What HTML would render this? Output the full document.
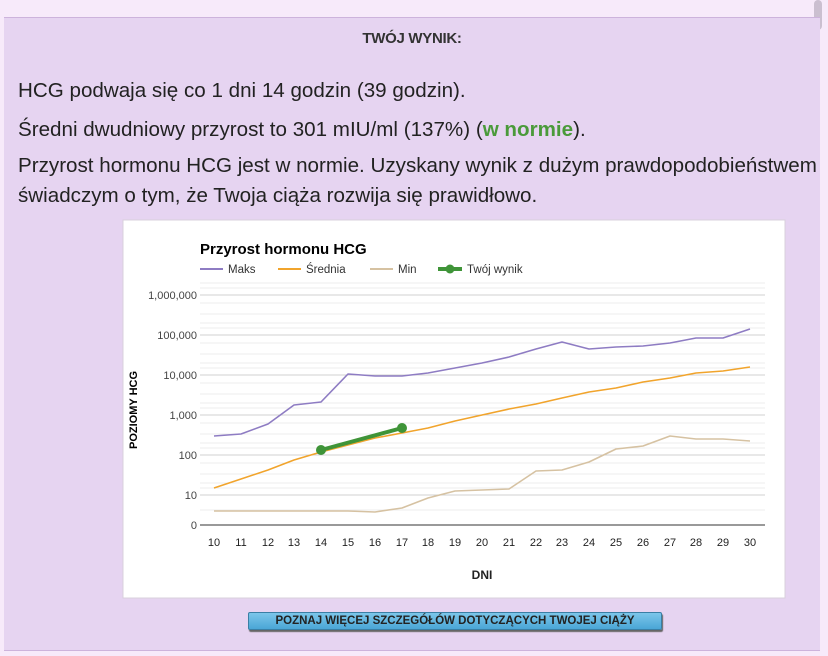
<!DOCTYPE html>
<html><head><meta charset="utf-8"><style>
body{margin:0;width:828px;height:656px;background:#f7eafa;font-family:"Liberation Sans",sans-serif;overflow:hidden;position:relative}
.box{position:absolute;left:4px;top:17px;width:816px;height:632px;background:#e6d4f1;border-top:1px solid #cdb3dc;border-bottom:1px solid #cdb3dc}
.sb{position:absolute;left:814px;top:0;width:8px;height:30px;background:#cbbfd0;border-radius:4px}
h1{position:absolute;top:12px;left:0;width:100%;text-align:center;margin:0;font-size:15px;font-weight:bold;color:#333;letter-spacing:-0.3px}
p{position:absolute;left:14px;margin:0;font-size:20.6px;color:#222;line-height:30px;white-space:nowrap}
.btn{position:absolute;left:248px;top:612px;width:412px;height:16px;background:linear-gradient(#7cc6ea,#4aa6d6);border:1px solid #3a7fa5;border-radius:2px;box-shadow:1px 2px 1px #666;font-size:11.5px;font-weight:bold;color:#222;text-align:center;line-height:16px}
</style></head><body>
<div class="sb"></div>
<div class="box">
<h1>TWÓJ WYNIK:</h1>
<p style="top:58px">HCG podwaja się co 1 dni 14 godzin (39 godzin).</p>
<p style="top:97px">Średni dwudniowy przyrost to 301 mIU/ml (137%) (<b style="color:#4a9a3a">w normie</b>).</p>
<p style="top:133px">Przyrost hormonu HCG jest w normie. Uzyskany wynik z dużym prawdopodobieństwem<br>świadczym o tym, że Twoja ciąża rozwija się prawidłowo.</p>
</div>
<svg style="position:absolute;left:0;top:0" width="828" height="656" font-family="Liberation Sans, sans-serif">
<rect x="123" y="220" width="662" height="378" fill="#fff" stroke="#d8d0dc"/>
<text x="200" y="254" font-size="15" font-weight="bold" fill="#000">Przyrost hormonu HCG</text>
<g font-size="11.5" fill="#333">
<line x1="200" y1="269" x2="223" y2="269" stroke="#8e7cc3" stroke-width="2"/><text x="228" y="273">Maks</text>
<line x1="278" y1="269" x2="301" y2="269" stroke="#f1a42c" stroke-width="2"/><text x="306" y="273">Średnia</text>
<line x1="370" y1="269" x2="393" y2="269" stroke="#d6c2a2" stroke-width="2"/><text x="398" y="273">Min</text>
<line x1="438" y1="269" x2="462" y2="269" stroke="#3f9438" stroke-width="4"/><circle cx="450" cy="269" r="4.5" fill="#3f9438"/><text x="467" y="273">Twój wynik</text>
</g>
<g stroke="#ececec">
<line x1="200" x2="765" y1="283" y2="283"/><line x1="200" x2="765" y1="288" y2="288"/>
<line x1="200" x2="765" y1="323" y2="323"/><line x1="200" x2="765" y1="328" y2="328"/><line x1="200" x2="765" y1="314" y2="314"/><line x1="200" x2="765" y1="303" y2="303"/>
<line x1="200" x2="765" y1="363" y2="363"/><line x1="200" x2="765" y1="354" y2="354"/><line x1="200" x2="765" y1="343" y2="343"/><line x1="200" x2="765" y1="368" y2="368"/>
<line x1="200" x2="765" y1="403" y2="403"/><line x1="200" x2="765" y1="394" y2="394"/><line x1="200" x2="765" y1="383" y2="383"/><line x1="200" x2="765" y1="408" y2="408"/>
<line x1="200" x2="765" y1="443" y2="443"/><line x1="200" x2="765" y1="434" y2="434"/><line x1="200" x2="765" y1="423" y2="423"/><line x1="200" x2="765" y1="448" y2="448"/>
<line x1="200" x2="765" y1="483" y2="483"/><line x1="200" x2="765" y1="474" y2="474"/><line x1="200" x2="765" y1="463" y2="463"/><line x1="200" x2="765" y1="488" y2="488"/>
<line x1="200" x2="765" y1="510" y2="510"/>
</g>
<g stroke="#d0d0d0">
<line x1="200" x2="765" y1="295" y2="295"/><line x1="200" x2="765" y1="335" y2="335"/><line x1="200" x2="765" y1="375" y2="375"/><line x1="200" x2="765" y1="415" y2="415"/><line x1="200" x2="765" y1="455" y2="455"/><line x1="200" x2="765" y1="495" y2="495"/>
</g>
<line x1="200" x2="765" y1="525" y2="525" stroke="#333"/>
<g font-size="11" fill="#444" text-anchor="end">
<text x="197" y="299">1,000,000</text><text x="197" y="339">100,000</text><text x="197" y="379">10,000</text><text x="197" y="419">1,000</text><text x="197" y="459">100</text><text x="197" y="499">10</text><text x="197" y="529">0</text>
</g>
<g font-size="11" fill="#222" text-anchor="middle">
<text x="214" y="546">10</text><text x="241" y="546">11</text><text x="268" y="546">12</text><text x="294" y="546">13</text><text x="321" y="546">14</text><text x="348" y="546">15</text><text x="375" y="546">16</text><text x="402" y="546">17</text><text x="428" y="546">18</text><text x="455" y="546">19</text><text x="482" y="546">20</text><text x="509" y="546">21</text><text x="536" y="546">22</text><text x="562" y="546">23</text><text x="589" y="546">24</text><text x="616" y="546">25</text><text x="643" y="546">26</text><text x="670" y="546">27</text><text x="696" y="546">28</text><text x="723" y="546">29</text><text x="750" y="546">30</text>
<text x="482" y="579" font-weight="bold" font-size="12">DNI</text>
</g>
<text transform="translate(137,410) rotate(-90)" text-anchor="middle" font-size="11" font-weight="bold">POZIOMY HCG</text>
<g fill="none" stroke-width="1.6" stroke-linejoin="round">
<polyline stroke="#8e7cc3" points="214,436 241,434 268,424 294,405 321,402 348,374 375,376 402,376 428,373 455,368 482,363 509,357 536,349 562,342 589,349 616,347 643,346 670,343 696,338 723,338 750,329"/>
<polyline stroke="#f1a42c" points="214,488 241,479 268,470 294,460 321,452 348,445 375,438 402,433 428,428 455,421 482,415 509,409 536,404 562,398 589,392 616,388 643,382 670,378 696,373 723,371 750,367"/>
<polyline stroke="#d6c2a2" points="214,511 241,511 268,511 294,511 321,511 348,511 375,512 402,508 428,498 455,491 482,490 509,489 536,471 562,470 589,462 616,449 643,446 670,436 696,439 723,439 750,441"/>
<line x1="321" y1="450" x2="402" y2="428" stroke="#3f9438" stroke-width="4"/>
</g>
<circle cx="321" cy="450" r="5" fill="#3f9438"/><circle cx="402" cy="428" r="5" fill="#3f9438"/>
</svg>
<div class="btn">POZNAJ WIĘCEJ SZCZEGÓŁÓW DOTYCZĄCYCH TWOJEJ CIĄŻY</div>
</body></html>
